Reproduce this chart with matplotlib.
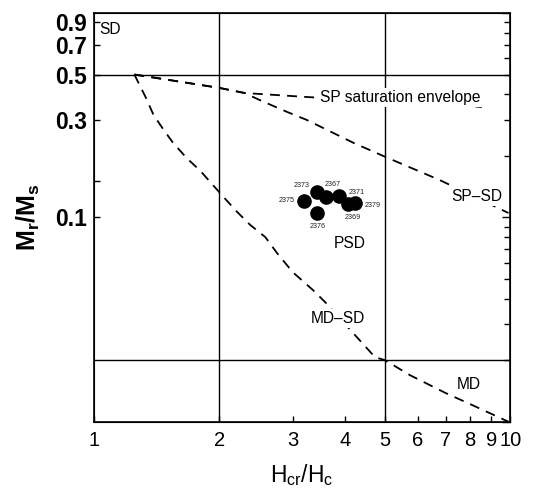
import matplotlib
matplotlib.use("Agg")
import matplotlib.pyplot as plt
from matplotlib.ticker import FixedLocator, NullLocator, NullFormatter, FixedFormatter, LogLocator

plt.rcParams['font.family'] = ['Liberation Sans', 'DejaVu Sans']
plt.rcParams['mathtext.fontset'] = 'custom'
plt.rcParams['mathtext.rm'] = 'Liberation Sans'
plt.rcParams['mathtext.it'] = 'Liberation Sans:italic'
plt.rcParams['mathtext.bf'] = 'Liberation Sans:bold'

# ---- data ----
sample_ids = ['2375', '2373', '2367', '2371', '2369', '2379', '2376']
hcr_hc = [3.20, 3.44, 3.60, 3.88, 4.08, 4.24, 3.44]
mr_ms = [0.120, 0.1335, 0.126, 0.1276, 0.1158, 0.1172, 0.1047]

# theoretical curves
sp_env_x = [1.25, 2.0, 2.3, 3.25, 8.55]
sp_env_y = [0.5, 0.43, 0.406, 0.388, 0.347]

spsd_x = [1.25, 2.0, 2.3, 2.5, 2.91, 3.24, 4.21, 5.0, 6.78, 9.9]
spsd_y = [0.5, 0.43, 0.406, 0.375, 0.328, 0.30, 0.231, 0.198, 0.152, 0.105]

mdsd_x = [1.25, 1.33, 1.39, 1.47, 1.55, 1.67, 1.80, 1.93, 2.06, 2.21, 2.37,
          2.58, 2.75, 3.0, 3.36, 3.59, 4.19, 4.73, 5.0, 5.74, 7.0, 8.37, 10.0]
mdsd_y = [0.5, 0.388, 0.317, 0.268, 0.231, 0.195, 0.169, 0.144, 0.124, 0.106, 0.092,
          0.080, 0.067, 0.054, 0.044, 0.0385, 0.0272, 0.0207, 0.020, 0.0169, 0.0138, 0.0117, 0.0099]

# domain boundaries
hcr_bounds = [2, 5]
mr_bounds = [0.5, 0.02]

xtick_vals = [1, 2, 3, 4, 5, 6, 7, 8, 9, 10]
xtick_labels = ['1', '2', '3', '4', '5', '6', '7', '8', '9', '10']
ytick_vals = [0.1, 0.3, 0.5, 0.7, 0.9]
ytick_labels = ['0.1', '0.3', '0.5', '0.7', '0.9']

# label offsets for sample ids (points)
label_offsets = {'2375': (-12.5, 0.5), '2373': (-11.5, 4.5), '2367': (5, 9),
                 '2371': (12.5, 2.5), '2369': (3, -9.5), '2379': (12.5, -1.5),
                 '2376': (0, -9.5)}

fig = plt.figure(figsize=(5.33, 4.88), dpi=100)
ax = fig.add_axes([94/533, 1-421.7/488, (510.3-94)/533, (421.7-13)/488])
ax.set_xscale('log')
ax.set_yscale('log')
ax.set_xlim(1, 10)
ax.set_ylim(0.01, 1)

for s in ax.spines.values():
    s.set_linewidth(1.2)

for xv in hcr_bounds:
    ax.axvline(xv, color='black', lw=1.0, zorder=1)
for yv in mr_bounds:
    ax.axhline(yv, color='black', lw=1.0, zorder=1)

dash = (0, (5.5, 4))
ax.plot(sp_env_x, sp_env_y, color='black', lw=1.3, linestyle=dash, zorder=2)
ax.plot(spsd_x, spsd_y, color='black', lw=1.3, linestyle=dash, zorder=2)
ax.plot(mdsd_x, mdsd_y, color='black', lw=1.3, linestyle=dash, zorder=2)

ax.plot(hcr_hc, mr_ms, 'o', color='black', ms=9.5, zorder=5)
for sid, xv, yv in zip(sample_ids, hcr_hc, mr_ms):
    ax.annotate(sid, (xv, yv), xytext=label_offsets[sid], textcoords='offset points',
                ha='center', va='center', fontsize=5.2, color='#222222', zorder=6)

bb = dict(facecolor='white', edgecolor='none', pad=1.5)
tkw = dict(ha='center', va='center', fontsize=11.2, zorder=4)
ax.text(1.093, 0.826, 'SD', **tkw)
ax.text(5.43, 0.384, 'SP saturation envelope', bbox=bb, **tkw)
ax.text(8.30, 0.1262, 'SP\u2013SD', bbox=bb, **tkw)
ax.text(4.12, 0.0741, 'PSD', **tkw)
ax.text(3.86, 0.0321, 'MD\u2013SD', bbox=bb, **tkw)
ax.text(7.93, 0.01513, 'MD', **tkw)

# x ticks
ax.xaxis.set_major_locator(FixedLocator(xtick_vals))
ax.xaxis.set_major_formatter(FixedFormatter(xtick_labels))
ax.xaxis.set_minor_locator(NullLocator())
ax.tick_params(axis='x', which='major', direction='in', length=4, width=1.0,
               labelsize=14.5, pad=7)

# y ticks (left)
ax.yaxis.set_major_locator(FixedLocator(ytick_vals))
ax.yaxis.set_major_formatter(FixedFormatter(ytick_labels))
ax.yaxis.set_minor_locator(FixedLocator([0.15]))
ax.yaxis.set_minor_formatter(NullFormatter())
ax.tick_params(axis='y', which='both', direction='in', length=4, width=1.0,
               labelsize=16.5, pad=5, right=False)
for lab in ax.get_yticklabels():
    lab.set_fontweight('bold')

# right-side log ticks
ax2 = ax.twinx()
ax2.set_yscale('log')
ax2.set_ylim(0.01, 1)
ax2.yaxis.set_major_locator(LogLocator(base=10))
ax2.yaxis.set_minor_locator(LogLocator(base=10, subs=range(2, 10)))
ax2.yaxis.set_major_formatter(NullFormatter())
ax2.yaxis.set_minor_formatter(NullFormatter())
ax2.tick_params(axis='y', which='major', direction='in', length=6, width=1.0)
ax2.tick_params(axis='y', which='minor', direction='in', length=4, width=1.0)

ax.set_xlabel(r'$\mathregular{H_{cr}/H_c}$', fontsize=16.5)
ax.xaxis.set_label_coords(0.5, -0.1)
ax.set_ylabel(r'$\mathbf{M_r/M_s}$', fontsize=18)
ax.yaxis.set_label_coords(-0.125, 0.5)

fig.savefig('out.png', dpi=100)
